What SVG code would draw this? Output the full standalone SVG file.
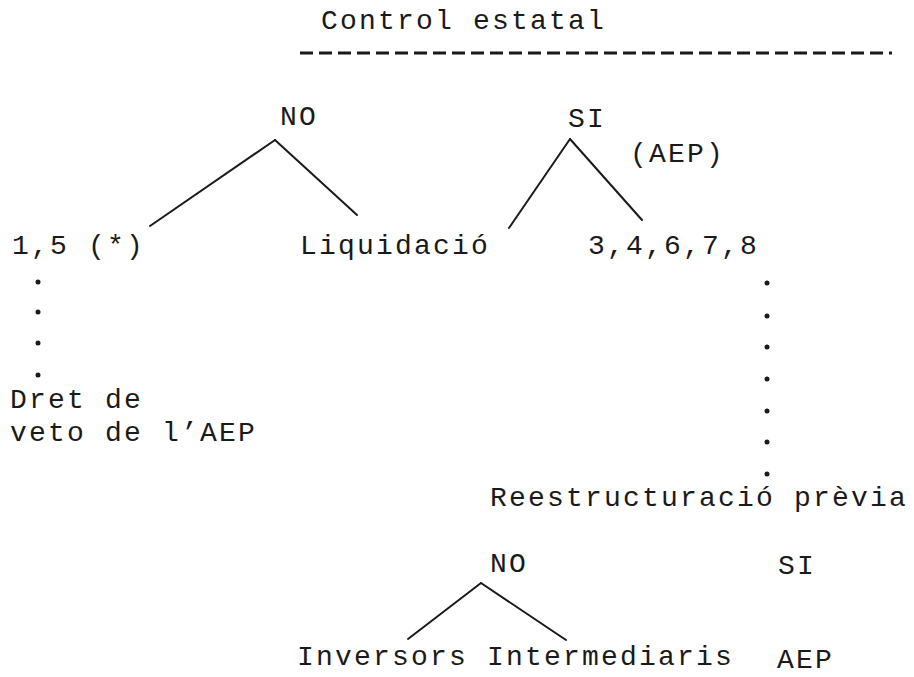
<svg xmlns="http://www.w3.org/2000/svg" width="914" height="677" viewBox="0 0 914 677">
<style>
text{font-family:"Liberation Mono","DejaVu Sans Mono",monospace;font-size:28px;letter-spacing:2.2px;fill:#1a1a1a}
.ln{stroke:#1a1a1a;stroke-width:2;fill:none;stroke-linecap:round}
.dot{fill:#1a1a1a}
.dash{stroke:#1a1a1a;stroke-width:3.2;stroke-dasharray:13 6}
</style>
<rect width="914" height="677" fill="#fff"/>
<g id="title">
<text x="321" y="29">Control estatal</text>
<line class="dash" x1="300" y1="53" x2="892" y2="53"/>
</g>
<g id="no-top"><text x="280" y="125">NO</text></g>
<g id="si-top"><text x="568" y="127">SI</text><text x="630" y="162">(AEP)</text></g>
<g id="n15"><text x="12" y="254">1,5 (*)</text></g>
<g id="liquidacio"><text x="300" y="254">Liquidació</text></g>
<g id="n34678"><text x="588" y="254">3,4,6,7,8</text></g>
<g id="dret"><text x="10" y="408">Dret de</text><text x="10" y="441">veto de l’AEP</text></g>
<g id="reestructuracio"><text x="490" y="506">Reestructuració prèvia</text></g>
<g id="no-bottom"><text x="490" y="572">NO</text></g>
<g id="si-bottom"><text x="778" y="574">SI</text></g>
<g id="inversors"><text x="297" y="665">Inversors</text></g>
<g id="intermediaris"><text x="487" y="665">Intermediaris</text></g>
<g id="aep"><text x="777" y="668">AEP</text></g>
<g id="connectors">
<line class="ln" x1="275" y1="140" x2="150" y2="226"/>
<line class="ln" x1="275" y1="140" x2="357" y2="215"/>
<line class="ln" x1="570" y1="139" x2="509" y2="228"/>
<line class="ln" x1="570" y1="139" x2="642" y2="220"/>
<line class="ln" x1="481" y1="583" x2="408" y2="639"/>
<line class="ln" x1="481" y1="583" x2="566" y2="640"/>
<circle class="dot" cx="38" cy="282" r="2.5"/>
<circle class="dot" cx="38" cy="312" r="2.5"/>
<circle class="dot" cx="38" cy="343" r="2.5"/>
<circle class="dot" cx="38" cy="375" r="2.5"/>
<circle class="dot" cx="767" cy="283" r="2.5"/>
<circle class="dot" cx="767" cy="316" r="2.5"/>
<circle class="dot" cx="767" cy="347" r="2.5"/>
<circle class="dot" cx="767" cy="379" r="2.5"/>
<circle class="dot" cx="767" cy="411" r="2.5"/>
<circle class="dot" cx="767" cy="442" r="2.5"/>
<circle class="dot" cx="767" cy="474" r="2.5"/>
</g>
</svg>
